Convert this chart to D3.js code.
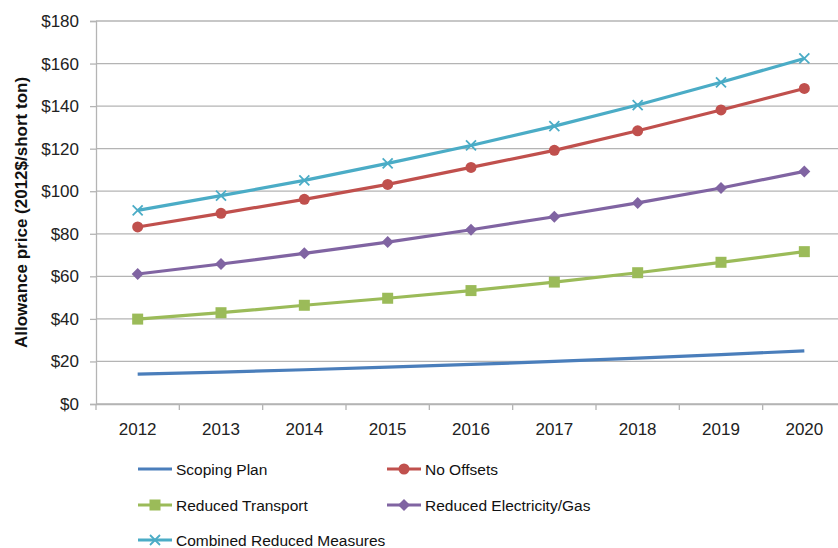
<!DOCTYPE html>
<html><head><meta charset="utf-8">
<script src="https://cdn.jsdelivr.net/npm/d3@7"></script>
<style>body{margin:0;background:#fff}svg{display:block}</style>
</head><body><svg id="c" width="838" height="548"></svg>
<script>
const years = ["2012","2013","2014","2015","2016","2017","2018","2019","2020"];
const scopingPlan = [14, 15, 16.1, 17.3, 18.6, 20, 21.6, 23.2, 25];
const noOffsets = [83.2, 89.6, 96.2, 103.2, 111.2, 119.2, 128.4, 138.2, 148.3];
const reducedTransport = [39.9, 42.9, 46.4, 49.7, 53.3, 57.3, 61.7, 66.6, 71.6];
const reducedElecGas = [61.1, 65.8, 70.8, 76.1, 81.9, 88.0, 94.5, 101.5, 109.3];
const combinedReduced = [91.0, 97.9, 105.1, 113.1, 121.5, 130.6, 140.5, 151.2, 162.4];
const yTicks = [0,20,40,60,80,100,120,140,160,180];
const yTitle = "Allowance price (2012$/short ton)";

const series = [
  {name:"Scoping Plan", values:scopingPlan, color:"#4A7EBB", marker:"none"},
  {name:"No Offsets", values:noOffsets, color:"#C0504D", marker:"circle"},
  {name:"Reduced Transport", values:reducedTransport, color:"#9BBB59", marker:"square"},
  {name:"Reduced Electricity/Gas", values:reducedElecGas, color:"#8064A2", marker:"diamond"},
  {name:"Combined Reduced Measures", values:combinedReduced, color:"#4BACC6", marker:"x"}
];

const svg = d3.select("#c");
const font = "'Liberation Sans', Arial, sans-serif";
const pL = 96, pR = 846, pT = 21, pB = 404;
const x = d3.scaleBand().domain(years).range([pL, pR]);
const y = d3.scaleLinear().domain([0,180]).range([pB, pT]);

// gridlines
svg.append("g").selectAll("line").data(yTicks).join("line")
  .attr("x1", pL).attr("x2", pR)
  .attr("y1", d=>y(d)).attr("y2", d=>y(d))
  .attr("stroke", "#b4b4b4").attr("stroke-width", 1.3);

// y axis
const ya = svg.append("g").attr("transform", `translate(${pL},0)`)
  .call(d3.axisLeft(y).tickValues(yTicks).tickSize(6).tickPadding(11).tickFormat(d=>"$"+d));
ya.select(".domain").attr("stroke", "#b4b4b4").attr("stroke-width",1.3);
ya.selectAll(".tick line").attr("stroke", "#b4b4b4").attr("stroke-width",1.3);
ya.selectAll("text").attr("font-family", font).attr("font-size", 17).attr("fill", "#222");

// x axis
const xa = svg.append("g").attr("transform", `translate(0,${pB})`)
  .call(d3.axisBottom(x).tickSize(0).tickPadding(19));
xa.select(".domain").attr("stroke", "#b4b4b4").attr("stroke-width",1.3);
xa.selectAll("text").attr("font-family", font).attr("font-size", 17).attr("fill", "#222");
const bounds = years.map((d)=>x(d)).concat([pR]);
svg.append("g").selectAll("line").data(bounds).join("line")
  .attr("x1", d=>d).attr("x2", d=>d).attr("y1", pB).attr("y2", pB+6)
  .attr("stroke", "#b4b4b4").attr("stroke-width",1.3);

// y title
svg.append("text").attr("transform", `translate(27,${(pT+pB)/2}) rotate(-90)`)
  .attr("text-anchor","middle").attr("font-family", font).attr("font-weight","bold")
  .attr("font-size", 17).attr("fill","#111").text(yTitle);

const cx = d => x(d) + x.bandwidth()/2;
function drawMarker(g, type, color, px, py) {
  if (type === "circle") g.append("circle").attr("cx",px).attr("cy",py).attr("r",5.5).attr("fill",color);
  else if (type === "square") g.append("rect").attr("x",px-5.5).attr("y",py-5.5).attr("width",11).attr("height",11).attr("fill",color);
  else if (type === "diamond") g.append("path").attr("d",`M${px},${py-6}L${px+6},${py}L${px},${py+6}L${px-6},${py}Z`).attr("fill",color);
  else if (type === "x") g.append("path").attr("d",`M${px-5},${py-5}L${px+5},${py+5}M${px-5},${py+5}L${px+5},${py-5}`).attr("stroke",color).attr("stroke-width",1.8).attr("fill","none");
}

const line = d3.line().x((d,i)=>cx(years[i])).y(d=>y(d));
series.forEach(s => {
  const g = svg.append("g");
  g.append("path").datum(s.values).attr("d", line).attr("fill","none")
    .attr("stroke", s.color).attr("stroke-width", 3.2).attr("stroke-linejoin","round");
  s.values.forEach((v,i)=>drawMarker(g, s.marker, s.color, cx(years[i]), y(v)));
});

// legend
const legPos = [[138,469],[387,469],[138,505],[387,505],[138,540]];
series.forEach((s,i) => {
  const [lx, ly] = legPos[i];
  const g = svg.append("g");
  g.append("line").attr("x1",lx).attr("x2",lx+34).attr("y1",ly).attr("y2",ly)
    .attr("stroke",s.color).attr("stroke-width",3.2);
  drawMarker(g, s.marker, s.color, lx+17, ly);
  g.append("text").attr("x", lx+38).attr("y", ly+5.5).attr("font-family",font)
    .attr("font-size",15.5).attr("fill","#111").text(s.name);
});
</script></body></html>
